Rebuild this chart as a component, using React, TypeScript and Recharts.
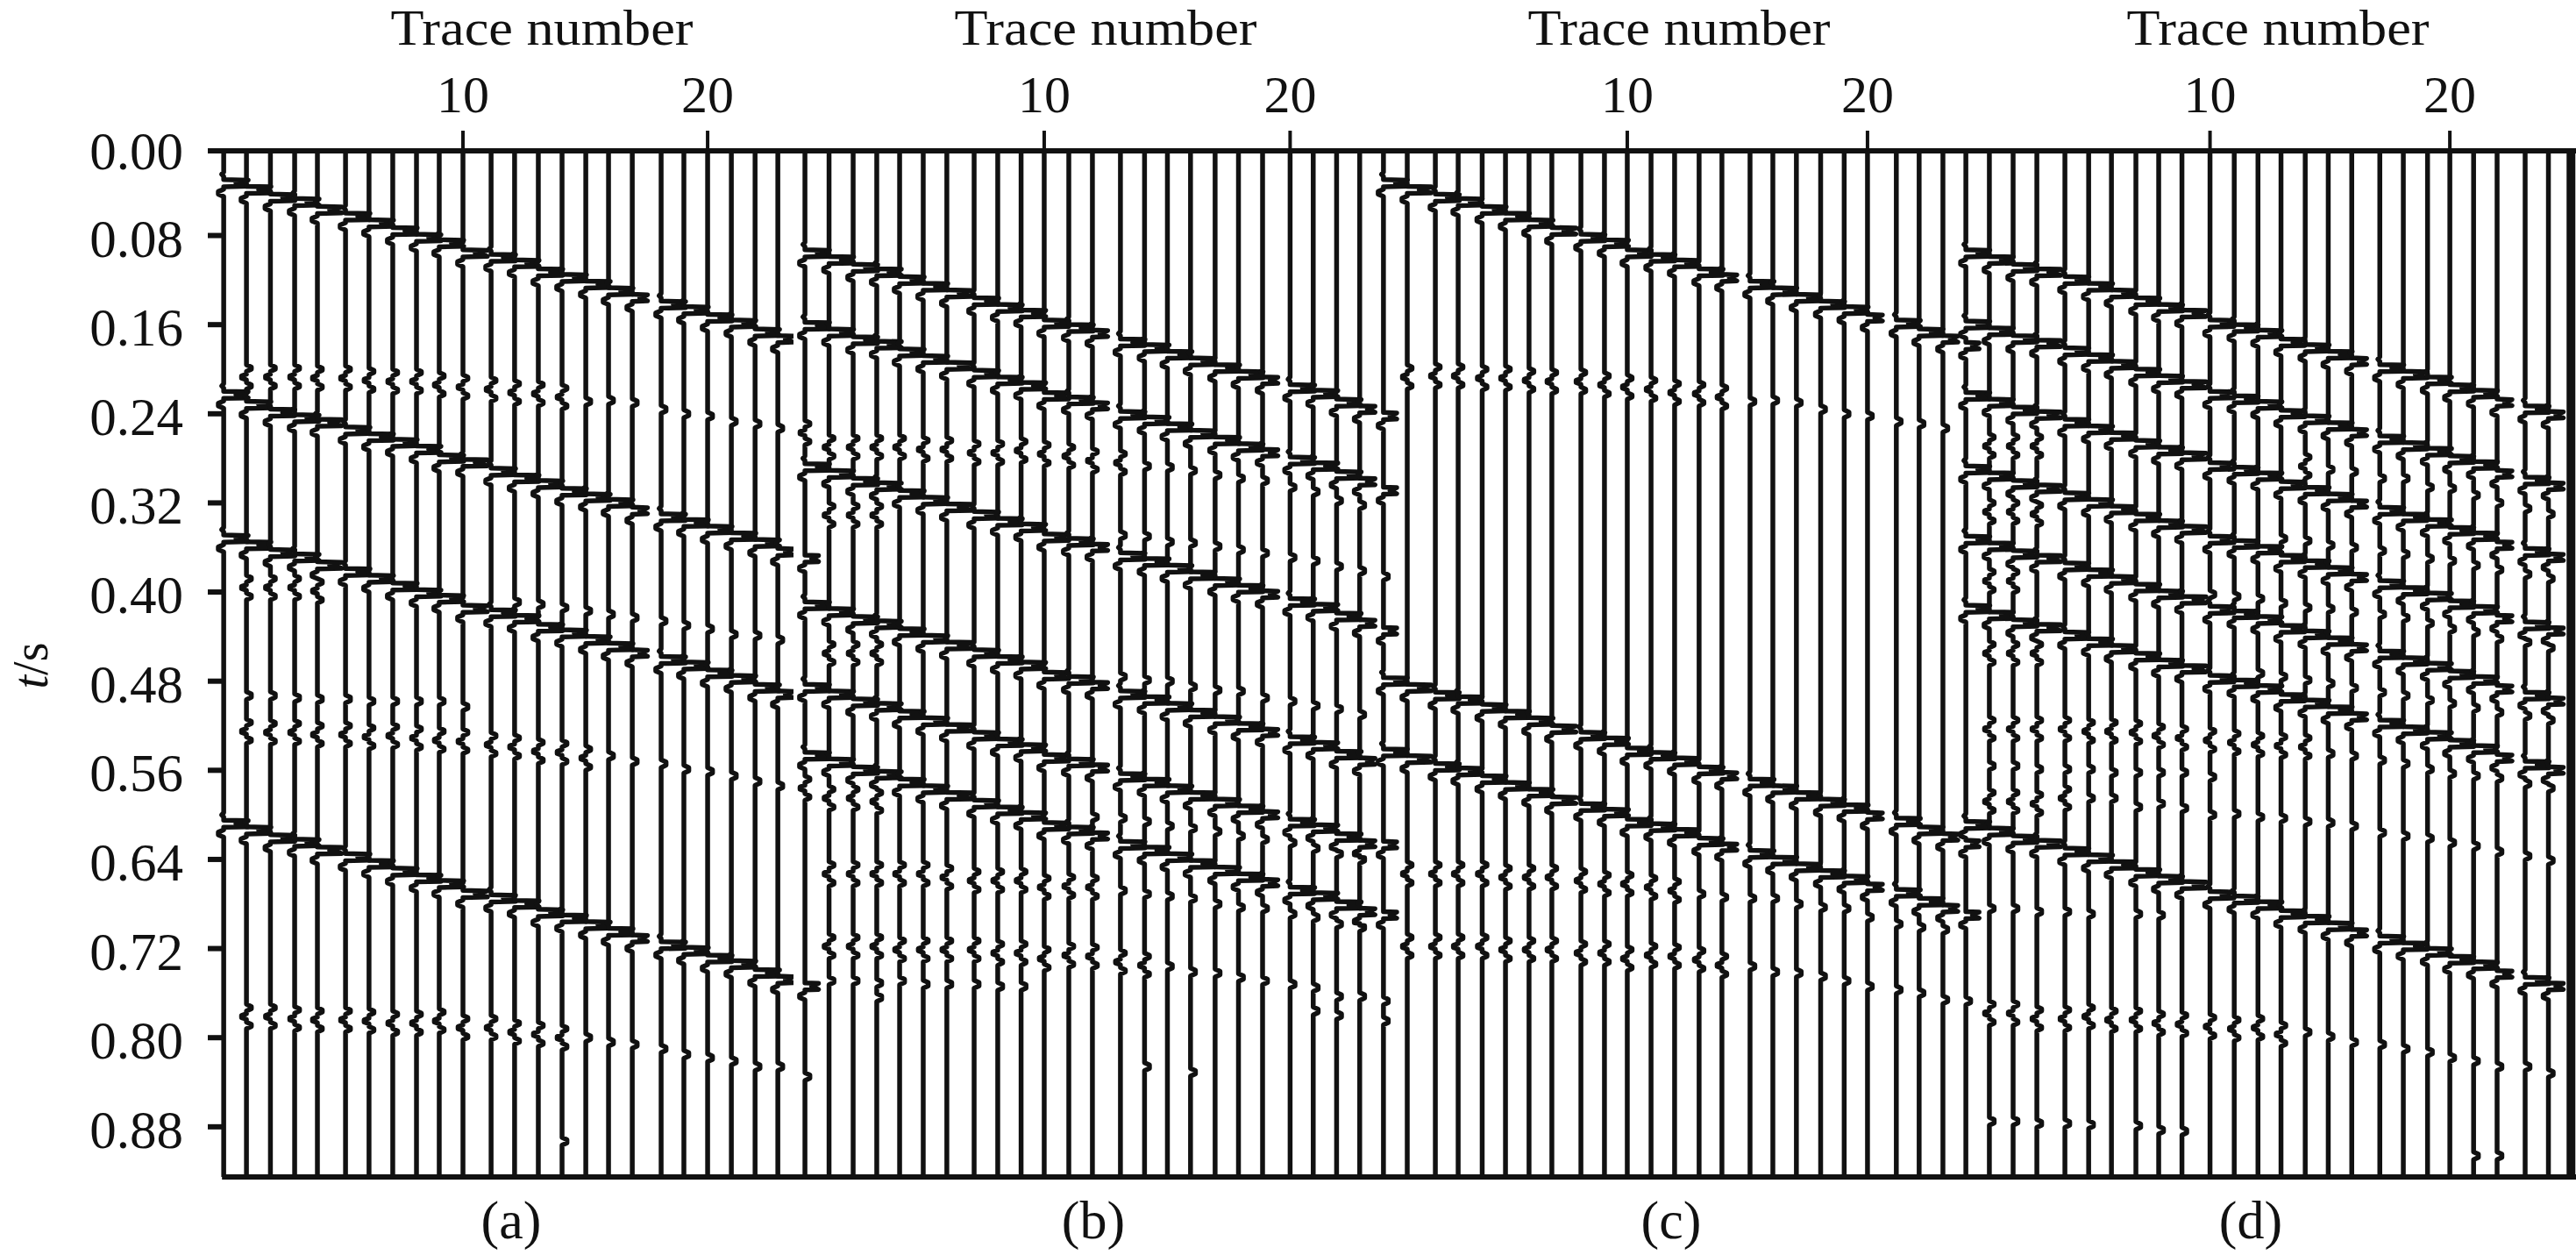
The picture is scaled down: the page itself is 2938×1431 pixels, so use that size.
import React from "react";
import { LineChart, Line, XAxis, YAxis, ReferenceLine } from "recharts";

const INK = "#111111";
const SERIF = "'Liberation Serif', serif";

// Trace positions on the trace-number axis
const aTraces = [0.22, 1.15, 2.13, 3.12, 4.05, 5.2, 6.16, 7.13, 8.1, 9.03, 10, 11.15, 12.11, 13.08, 14.05, 15.02, 15.95, 16.92, 18.1, 19.03, 20, 20.97, 21.94, 22.87];
const bTraces = [0.27, 1.25, 2.23, 3.19, 4.12, 5.08, 6.04, 7.15, 8.11, 9.06, 10, 11, 11.96, 13.1, 14.08, 15.01, 15.95, 16.95, 17.9, 18.88, 20, 20.94, 21.89, 22.83];
const cTraces = [-0.15, 0.84, 2.01, 2.96, 3.96, 4.93, 5.91, 6.86, 8.07, 9.05, 10, 10.99, 11.97, 12.99, 13.94, 15.11, 16.06, 17.04, 18.05, 19.03, 20, 21.2, 22.15, 23.14];
const dTraces = [-0.18, 0.8, 1.79, 2.78, 3.95, 4.94, 5.89, 6.91, 7.86, 8.83, 10, 11.01, 12, 12.96, 13.97, 14.93, 15.91, 17.08, 18.06, 19.07, 20, 20.99, 21.97, 23.14, 24.11];
const dEdgeTrace = [25.05];

// Strong reflection arrival per trace, in ms
const aMain = [
  [33, 39, 46, 50, 57, 63, 69, 76, 82, 87, 96, 100, 105, 113, 118, 124, 130, 136, 142, 147, 154, 159, 167, 173],
  [223, 232, 239, 244, 248, 255, 261, 266, 272, 280, 284, 292, 298, 303, 310, 315, 320, 327, 333, 338, 344, 350, 356, 364],
  [352, 358, 365, 369, 376, 382, 388, 395, 401, 406, 415, 419, 424, 432, 437, 443, 449, 455, 461, 466, 473, 478, 486, 492],
  [608, 614, 621, 625, 632, 638, 644, 651, 657, 662, 671, 675, 680, 688, 693, 699, 705, 711, 717, 722, 729, 734, 742, 748],
];
const bMain = [
  [96, 102, 109, 113, 120, 126, 132, 139, 145, 150, 159, 163, 168, 176, 181, 187, 193, 199, 205, 210, 217, 222, 230, 236],
  [161, 167, 174, 178, 185, 191, 197, 204, 210, 215, 224, 228, 233, 241, 246, 252, 258, 264, 270, 275, 282, 287, 295, 301],
  [288, 294, 301, 305, 312, 318, 324, 331, 337, 342, 351, 355, 360, 368, 373, 379, 385, 391, 397, 402, 409, 414, 422, 428],
  [412, 418, 425, 429, 436, 442, 448, 455, 461, 466, 475, 479, 484, 492, 497, 503, 509, 515, 521, 526, 533, 538, 546, 552],
  [486, 492, 499, 503, 510, 516, 522, 529, 535, 540, 549, 553, 558, 566, 571, 577, 583, 589, 595, 600, 607, 612, 620, 626],
  [547, 553, 560, 564, 571, 577, 583, 590, 596, 601, 610, 614, 619, 627, 632, 638, 644, 650, 656, 661, 668, 673, 681, 687],
];
const cMain = [
  [33, 39, 46, 50, 57, 63, 69, 76, 82, 87, 96, 100, 105, 113, 118, 124, 130, 136, 142, 147, 154, 159, 167, 173],
  [480, 486, 493, 497, 504, 510, 516, 523, 529, 534, 543, 547, 552, 560, 565, 571, 577, 583, 589, 594, 601, 606, 614, 620],
  [544, 550, 557, 561, 568, 574, 580, 587, 593, 598, 607, 611, 616, 624, 629, 635, 641, 647, 653, 658, 665, 670, 678, 684],
];
const dMain = [
  [96, 102, 109, 113, 120, 126, 132, 139, 145, 150, 159, 163, 168, 176, 181, 187, 193, 199, 205, 210, 217, 222, 230, 236, 241],
  [160, 166, 173, 177, 184, 190, 196, 203, 209, 214, 223, 227, 232, 240, 245, 251, 257, 263, 269, 274, 281, 286, 294, 300, 305],
  [224, 230, 237, 241, 248, 254, 260, 267, 273, 278, 287, 291, 296, 304, 309, 315, 321, 327, 333, 338, 345, 350, 358, 364, 369],
  [290, 296, 303, 307, 314, 320, 326, 333, 339, 344, 353, 357, 362, 370, 375, 381, 387, 393, 399, 404, 411, 416, 424, 430, 435],
  [353, 359, 366, 370, 377, 383, 389, 396, 402, 407, 416, 420, 425, 433, 438, 444, 450, 456, 462, 467, 474, 479, 487, 493, 498],
  [415, 421, 428, 432, 439, 445, 451, 458, 464, 469, 478, 482, 487, 495, 500, 506, 512, 518, 524, 529, 536, 541, 549, 555, 560],
  [609, 615, 622, 626, 633, 639, 645, 652, 658, 663, 672, 676, 681, 689, 694, 700, 706, 712, 718, 723, 730, 735, 743, 749, 754],
];

// Weak multiple arrival per trace, in ms (null: nothing visible)
const N = null;
const aWeak = [
  [N, 207, 207, 207, 208, 208, 210, 211, 211, 214, 216, 218, 221, 222, 225, 229, 228, 230, 236, 240, 242, 247, 249, 253],
  [N, 396, 396, 396, 399, 399, 399, 405, 409, 415, 418, 414, 409, 411, 414, 417, 420, 423, 426, 430, 433, 438, 439, 443],
  [N, 493, 493, 495, 496, 496, 498, 498, 498, 498, 503],
  [N, 525, 526, 526, 528, 528, 530, 529, 531, 533, 534, 537, 539, 543, 544, 549, 547, 552, 554, 559, 561, 565, 570, 574],
  [N, 781, 781, 783, 784, 784, 785, 787, 787, 785, 791, 791, 795, 797, 800, 800, 804, 806, 810, 815, 818, 821, 826, 826],
];
const bWeak = [
  [257, 270, 270, 270, 270, 272, 272, 275, 275, 273, 276, 278, 282, 284, 287, 288, 291, 295, 298, 300, 306, 310, 318, 322],
  [N, 331, 331, 331, 331, 335, 337, 341, 345, 346, 347, 348, 349, 349, 350, 355, 356, 359, 362, 365, 369, 372, 377, 381],
  [N, 455, 455, 455, 456, 458, 460, 462, 464, 466, 468, 470, 473, 476, 479, 480, 485, 488, 489, 495, 498, 502, 505, 510],
  [576, 585, 585, 588, 588, 591, 594, 597, 598, 600, 601, 601, 602, 603, 606, 610, 612, 615, 619, 622, 625, 630, 635, 640],
  [N, 653, 653, 653, 653, 653, 656, 659, 659, 659, 665, 664, 665, 668, 671, 673, 675, 680, 683, 684, 689, 692, 698, 701],
  [N, 718, 718, 718, 721, 721, 721, 721, 724, 724, 729, 726, 727, 732, 735, 736, 741, 742, 746, 749, 752, 755, 763, 763],
  [N, 749, 749, 751, 749, 752, 752, 752, 754, 754],
];
const cWeak = [
  [N, 207, 206, 206, 208, 208, 210, 211, 211, 214, 216, 218, 221, 222, 225, 229, 228, 230, 236, 240, 242, 247, 249, 253],
  [N, 653, 653, 653, 653, 656, 656, 656, 659, 662, 662, 665, 668, 671, 674, 675, 675, 680, 683, 684, 692, 698, 701, 703],
  [N, 718, 718, 718, 718, 721, 721, 721, 724, 724, 729, 726, 727, 730, 735, 736, 741, 742, 745, 749, 754, 757, 760, 766],
];
const dWeak = [
  [N, 269, 269, 269, 269, 272, 272, 275, 275, 273, 276, 278, 282, 284, 287, 290, 292, 298, 298, 306, 307, 313, 320, 325, 330],
  [N, 328, 328, 330, 330, 333, 336, 340, 344, 346, 347, 348, 349, 352, 354, 358, 360, 363, 366, 370, 372, 376, 380, 384, 388],
  [N, 390, 390, 390, 392, 392, 394, 396, 398, 400, 402, 404, 406, 410, 414, 415, 418, 420, 423, 428, 433, 436, 442, 445, 450],
  [N, 455, 455, 455, 456, 458, 460, 462, 464, 466, 468, 470, 473, 476, 479, 482, 486, 490, 493, 497, 500, 504, 508, 511, 515],
  [N, 523, 523, 523, 523, 525, 525, 526, 529, 531, 533, 535, 537, 538, 539, 545, 547, 551, 554, 559, 563, 565, 567, 572, 576],
  [N, 556, 556, 559, 559, 559, 562, 562, 562, 562, 566],
  [N, 588, 588, 590, 585, 585, 585, 593, 590, 594, 600, 599, 602, 603, 606, 607, 610, 616, 619, 621, 625, 628, 633, 637, 641],
  [N, 684, 684, 687, 687, 689, N, 689, 690],
  [N, 778, 778, 783, 783, 781, 784, 784, 787, 788, 790, 792, 791, 797, 795, 799, 804, 806, 810, 813, 818, 821, 826, 826, 832],
  [N, 875, 875, 877, 877, 878, N, 879, 883, 884],
];

// Traces up to which a weak event is still a three-lobed wavelet
const aTriple = [14, 6, 0, 15, 14];
const bTriple = [13, 5, 7, 6, 12, 14, 0];
const cTriple = [14, 12, 14];
const dTriple = [14, 5, 6, 8, 14, 0, 4, 0, 13, 0];

// Traces whose strong lobe is cut short
const aShort = [17, 23];
const bShort = [12, 19, 23];
const cShort = [14, 20, 23];
const dShort = [16, 22, 24];

// Lobes on the first trace that continue the previous section (ms)
const aCarry: number[] = [];
const bCarry = [175, 370, 497, 754];
const cCarry = [242, 309, 435, 627, 690];
const dCarry = [179, 626, 690];

// Isolated small lobes: [trace index, ms]
const aLone = [[14, 893]];
const bLone = [[0, 835], [14, 826], [16, 831], [21, 776], [22, 780], [3, 764]];
const cLone = [[0, 386], [0, 767], [0, 785]];
const dLone = [[0, 767], [21, 906], [22, 906]];

// Wavelet outlines: [ms from arrival, lobe width in trace units]
const strongHook: number[][] = [[-10, 0], [-8, -0.08], [-6, 0]];
const strongTail: number[][] = [[5.5, 0], [7.5, -0.22], [10, -0.22], [12, 0]];
const strongBody: number[][] = [[-3.2, 0], [-2.7, 1], [0, 0.5], [2.7, 1], [3.2, 0]];
const smallLobe: number[][] = [[-3.5, 0], [-1.5, 0.2], [1.5, 0.2], [3.5, 0]];
const tripleLobe: number[][] = [
  [-11, 0], [-9, 0.2], [-7, 0.2], [-5, 0],
  [-2.5, 0], [-1, -0.2], [1, -0.2], [2.5, 0],
  [5, 0], [7, 0.2], [9, 0.2], [11, 0],
];
// A weak lobe this close to a strong one is hidden by it (ms)
const maskedWithin = 14;

const timeTicks = [0.004, 0.08, 0.16, 0.24, 0.32, 0.4, 0.48, 0.56, 0.64, 0.72, 0.8, 0.88];
const traceTicks = [10, 20];
const timeDomain = [0.004, 0.925];
const sectionCaptions = ["(a)", "(b)", "(c)", "(d)"];
const topTitle = "Trace number";

type Pt = { x: number; t: number };

function buildTrace(
  i: number, base: number, main: number[][], weak: (number | null)[][], triple: number[],
  short: number[], carry: number[], lone: number[][]
): Pt[] {
  const pts: Pt[] = [
    { x: base, t: timeDomain[0] },
    { x: base, t: timeDomain[1] },
  ];
  const add = (at: number, shape: number[][], scale = 1) => {
    shape.forEach(([dt, w]) => pts.push({ x: base + w * scale, t: (at + dt) / 1000 }));
  };
  const lobe = short.includes(i) ? 0.62 : 1;
  const strongHere: number[] = [];
  main.forEach((row) => {
    const at = row[i];
    if (at == null) return;
    strongHere.push(at);
    add(at, strongHook);
    add(at, strongBody, lobe);
    add(at, strongTail);
  });
  if (i === 0) {
    carry.forEach((at) => {
      if (strongHere.some((s) => Math.abs(s - at) < 16)) return;
      strongHere.push(at);
      add(at, strongBody, 0.55);
      add(at, strongTail);
    });
  }
  weak.forEach((row, r) => {
    const at = row[i];
    if (at == null) return;
    const triplet = i <= triple[r];
    const reach = triplet ? maskedWithin + 8 : maskedWithin;
    if (strongHere.some((s) => Math.abs(s - at) < reach)) return;
    add(at, triplet ? tripleLobe : smallLobe);
  });
  lone.forEach(([tr, at]) => {
    if (tr === i) add(at, smallLobe);
  });
  return pts.sort((a, b) => a.t - b.t);
}

function YTick(props: any) {
  const { x, y, payload } = props;
  const shift = payload.value < 0.01 ? 21 : 24;
  return (
    <g>
      <line x1={x} x2={x + 16} y1={y} y2={y} stroke={INK} strokeWidth={6} />
      <text x={x - 28} y={y + shift} textAnchor="end" fontFamily={SERIF} fontSize={61} fill={INK}>
        {Number(payload.value).toFixed(2)}
      </text>
    </g>
  );
}

function Section(props: any) {
  const { left, width, xDomain, traces, main, weak, triple, short, carry, lone, withY, floorFrom, edge } = props;
  return (
    <div style={{ position: "absolute", left, top: 0 }}>
      <LineChart width={width} height={1431} margin={{ top: 0, right: 0, bottom: 89, left: 0 }}>
        <XAxis
          type="number"
          dataKey="x"
          orientation="top"
          height={172}
          domain={xDomain}
          ticks={traceTicks}
          interval={0}
          tickSize={23}
          tickMargin={21}
          tick={{ fontFamily: SERIF, fontSize: 60, fill: INK }}
          tickLine={{ stroke: INK, strokeWidth: 4 }}
          axisLine={{ stroke: INK, strokeWidth: 6 }}
        />
        <YAxis
          type="number"
          dataKey="t"
          reversed
          hide={!withY}
          width={withY ? 237 : 0}
          domain={timeDomain}
          ticks={timeTicks}
          interval={0}
          axisLine={false}
          tickLine={false}
          tickSize={0}
          tickMargin={0}
          tick={withY ? YTick : false}
        />
        <ReferenceLine
          segment={[{ x: floorFrom, y: timeDomain[1] }, { x: xDomain[1], y: timeDomain[1] }]}
          stroke={INK}
          strokeWidth={6}
        />
        {traces.map((base: number, i: number) => (
          <Line
            key={i}
            data={buildTrace(i, base, main, weak, triple, short, carry, lone)}
            dataKey="t"
            type="linear"
            stroke={INK}
            strokeWidth={5.5}
            strokeLinejoin="round"
            dot={false}
            activeDot={false}
            legendType="none"
            isAnimationActive={false}
          />
        ))}
        {edge
          ? edge.map((base: number, i: number) => (
              <Line
                key={`edge${i}`}
                data={[{ x: base, t: timeDomain[0] }, { x: base, t: timeDomain[1] }]}
                dataKey="t"
                type="linear"
                stroke={INK}
                strokeWidth={10}
                dot={false}
                activeDot={false}
                legendType="none"
                isAnimationActive={false}
              />
            ))
          : null}
      </LineChart>
    </div>
  );
}

export default function App() {
  const titleX = [618, 1261, 1915, 2598];
  const captionX = [583, 1247, 1906, 2567];
  return (
    <div style={{ position: "absolute", left: 0, top: 0, width: 2938, height: 1431, background: "#fff", overflow: "hidden" }}>
      <Section left={0} width={905} xDomain={[-0.43, 23.51]} traces={aTraces} main={aMain} weak={aWeak} triple={aTriple} short={aShort} carry={aCarry} lone={aLone} withY floorFrom={0.15} />
      <Section left={905} width={680} xDomain={[-0.196, 24.05]} traces={bTraces} main={bMain} weak={bWeak} triple={bTriple} short={bShort} carry={bCarry} lone={bLone} floorFrom={-0.196} />
      <Section left={1565} width={680} xDomain={[-0.62, 24.2]} traces={cTraces} main={cMain} weak={cWeak} triple={cTriple} short={cShort} carry={cCarry} lone={cLone} floorFrom={-0.62} />
      <Section left={2232} width={706} xDomain={[-0.55, 25.26]} traces={dTraces} main={dMain} weak={dWeak} triple={dTriple} short={dShort} carry={dCarry} lone={dLone} floorFrom={-0.55} edge={dEdgeTrace} />
      <svg width={2938} height={1431} style={{ position: "absolute", left: 0, top: 0, pointerEvents: "none" }}>
        {titleX.map((x, i) => (
          <text key={i} x={x} y={51} textAnchor="middle" fontFamily={SERIF} fontSize={57} textLength={345} lengthAdjust="spacingAndGlyphs" fill={INK}>
            {topTitle}
          </text>
        ))}
        {captionX.map((x, i) => (
          <text key={i} x={x} y={1412} textAnchor="middle" fontFamily={SERIF} fontSize={62} fill={INK}>
            {sectionCaptions[i]}
          </text>
        ))}
        <text transform="translate(54 759) rotate(-90)" textAnchor="middle" fontFamily={SERIF} fontSize={56} fill={INK}>
          <tspan fontStyle="italic">t</tspan>/s
        </text>
      </svg>
    </div>
  );
}
